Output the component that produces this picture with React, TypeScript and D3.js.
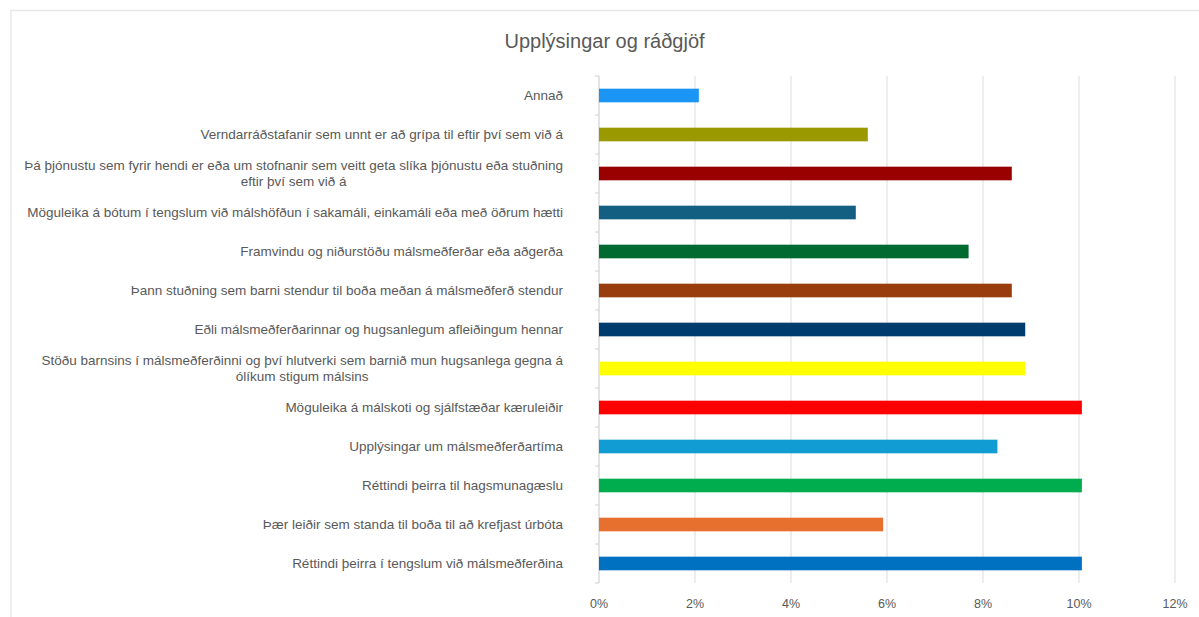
import React from "react";
import * as d3 from "d3";

const title = "Upplýsingar og ráðgjöf";

const categories: string[][] = [
  ["Annað"],
  ["Verndarráðstafanir sem unnt er að grípa til eftir því sem við á"],
  ["Þá þjónustu sem fyrir hendi er eða um stofnanir sem veitt geta slíka þjónustu eða stuðning", "eftir því sem við á"],
  ["Möguleika á bótum í tengslum við málshöfðun í sakamáli, einkamáli eða með öðrum hætti"],
  ["Framvindu og niðurstöðu málsmeðferðar eða aðgerða"],
  ["Þann stuðning sem barni stendur til boða meðan á málsmeðferð stendur"],
  ["Eðli málsmeðferðarinnar og hugsanlegum afleiðingum hennar"],
  ["Stöðu barnsins í málsmeðferðinni og því hlutverki sem barnið mun hugsanlega gegna á", "ólíkum stigum málsins"],
  ["Möguleika á málskoti og sjálfstæðar kæruleiðir"],
  ["Upplýsingar um málsmeðferðartíma"],
  ["Réttindi þeirra til hagsmunagæslu"],
  ["Þær leiðir sem standa til boða til að krefjast úrbóta"],
  ["Réttindi þeirra í tengslum við málsmeðferðina"],
];

const values: number[] = [2.08, 5.6, 8.6, 5.35, 7.7, 8.6, 8.88, 8.88, 10.06, 8.3, 10.06, 5.92, 10.06];

const colors: string[] = [
  "#1a94f5", "#9a9a00", "#990000", "#125f82", "#006a31", "#993d0f",
  "#003c6e", "#ffff00", "#ff0000", "#129cd4", "#00ad4e", "#e8702f", "#0070c0",
];

const xTicks: number[] = [0, 2, 4, 6, 8, 10, 12];

const W = 1199;
const H = 617;
const plotLeft = 599;
const plotRight = 1175;
const plotTop = 76;
const plotBottom = 583;
const labelRight = 563;
const labelSize = 13.5;
const labelFont = `${labelSize}px 'Liberation Sans', Arial, sans-serif`;

function measure(text: string): number {
  const c = document.createElement("canvas");
  const ctx = c.getContext("2d");
  if (!ctx) return text.length * 6.5;
  ctx.font = labelFont;
  return ctx.measureText(text).width;
}

export default function App() {
  const x = d3.scaleLinear().domain([0, 12]).range([plotLeft, plotRight]);
  const ids = categories.map((_, i) => String(i));
  const y = d3.scaleBand<string>().domain(ids).range([plotTop, plotBottom]).paddingInner(0.65).paddingOuter(0.325);
  const step = y.step();
  const textColor = "#595959";

  return (
    <svg width={W} height={H} style={{ position: "absolute", left: 0, top: 0, background: "#fff" }}>
      <line x1={10} x2={W} y1={10.5} y2={10.5} stroke="#e8e8e8" strokeWidth={1.5} />
      <line x1={11} x2={11} y1={10} y2={H} stroke="#e8e8e8" strokeWidth={1.5} />
      <text x={W / 2 + 5} y={48} textAnchor="middle" fontFamily="'Liberation Sans', Arial, sans-serif" fontSize={20} fill={textColor}>
        {title}
      </text>
      {xTicks.map((t) => (
        <g key={t}>
          <line x1={x(t)} x2={x(t)} y1={plotTop} y2={plotBottom} stroke={t === 0 ? "#d0d0d0" : "#e2e2e2"} strokeWidth={1.2} />
          <text x={x(t)} y={608} textAnchor="middle" fontFamily="'Liberation Sans', Arial, sans-serif" fontSize={12.5} fill={textColor}>
            {t + "%"}
          </text>
        </g>
      ))}
      {d3.range(categories.length + 1).map((i) => (
        <line key={"tk" + i} x1={plotLeft - 4} x2={plotLeft} y1={plotTop + i * step} y2={plotTop + i * step} stroke="#d0d0d0" />
      ))}
      {values.map((v, i) => (
        <rect key={"b" + i} x={x(0)} y={y(String(i))!} width={x(v) - x(0)} height={y.bandwidth()} fill={colors[i]} />
      ))}
      {categories.map((lines, i) => {
        const cy = y(String(i))! + y.bandwidth() / 2;
        const widths = lines.map(measure);
        const maxW = Math.max(...widths);
        const cx = labelRight - maxW / 2;
        const lh = 16;
        const startY = cy - ((lines.length - 1) * lh) / 2 + 4.5;
        return (
          <text key={"l" + i} fontFamily="'Liberation Sans', Arial, sans-serif" fontSize={labelSize} fill={textColor} textAnchor="middle">
            {lines.map((ln, j) => (
              <tspan key={j} x={cx} y={startY + j * lh}>
                {ln}
              </tspan>
            ))}
          </text>
        );
      })}
    </svg>
  );
}
